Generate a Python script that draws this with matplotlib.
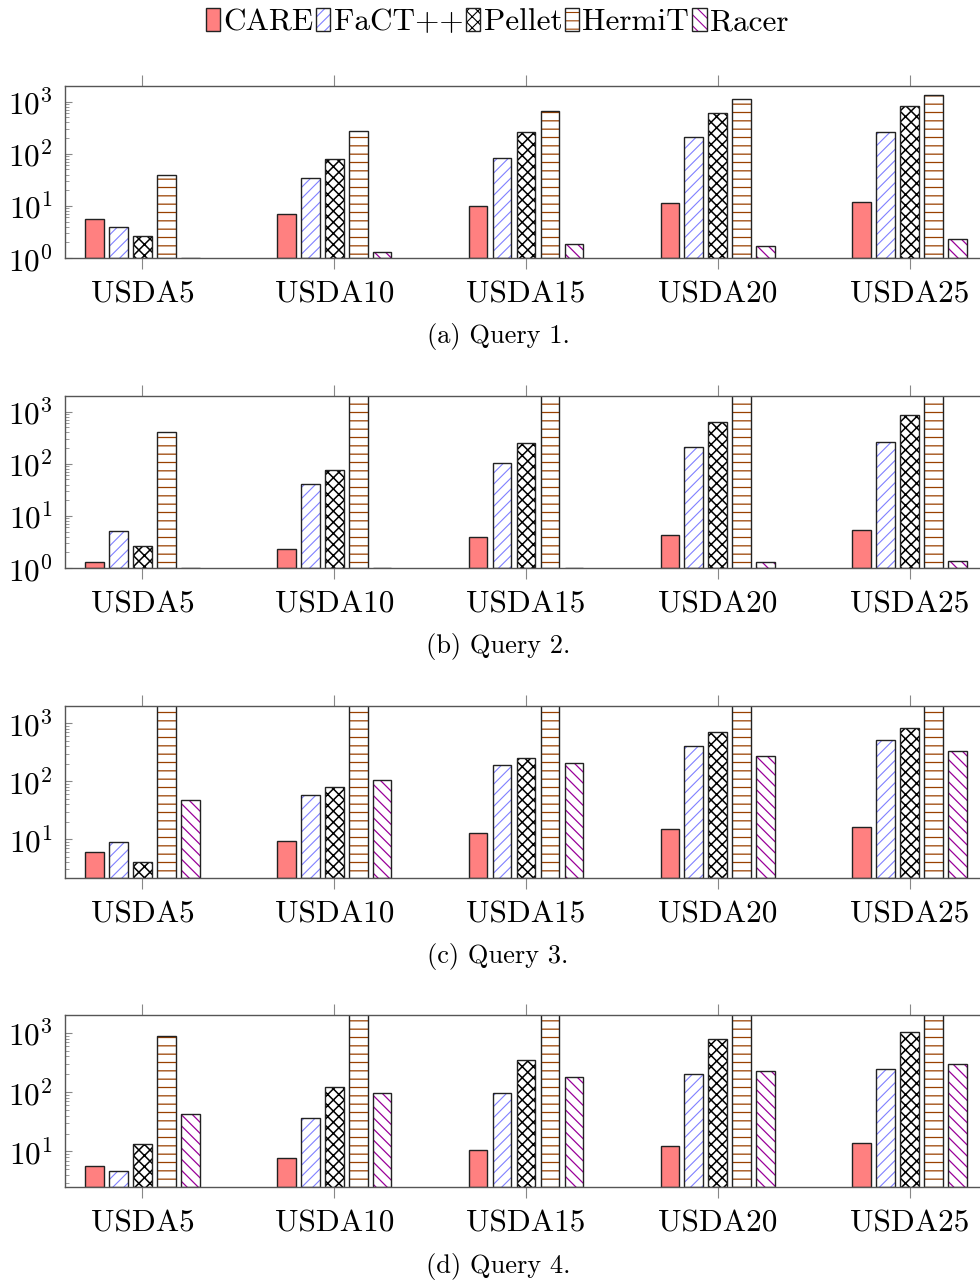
import matplotlib
matplotlib.use("Agg")
import matplotlib.pyplot as plt
from matplotlib.patches import Patch
from matplotlib.legend_handler import HandlerTuple
import numpy as np

# ---------------- data ----------------
groups = ['USDA5', 'USDA10', 'USDA15', 'USDA20', 'USDA25']
reasoners = ['CARE', 'FaCT++', 'Pellet', 'HermiT', 'Racer']
captions = ['(a) Query 1.', '(b) Query 2.', '(c) Query 3.', '(d) Query 4.']

q1_care = [5.6, 7.1, 10.0, 11.4, 11.9]
q1_fact = [3.9, 33.7, 82.6, 207, 258]
q1_pellet = [2.6, 78, 258, 615, 835]
q1_hermit = [38.5, 270, 653, 1110, 1320]
q1_racer = [1.0, 1.29, 1.83, 1.73, 2.29]

q2_care = [1.3, 2.28, 3.88, 4.24, 5.38]
q2_fact = [5.2, 40.5, 104, 206, 260]
q2_pellet = [2.65, 75, 253, 623, 850]
q2_hermit = [405, 3600, 3600, 3600, 3600]
q2_racer = [1.0, 1.0, 1.0, 1.3, 1.38]

q3_care = [5.9, 9.2, 12.7, 15.1, 16.4]
q3_fact = [8.8, 59, 189, 407, 517]
q3_pellet = [4.07, 79, 257, 719, 843]
q3_hermit = [3600, 3600, 3600, 3600, 3600]
q3_racer = [47.8, 106, 209, 274, 329]

q4_care = [5.75, 7.9, 10.4, 12.6, 14.0]
q4_fact = [4.7, 36.4, 97, 200, 245]
q4_pellet = [13.3, 123, 352, 775, 1040]
q4_hermit = [890, 3600, 3600, 3600, 3600]
q4_racer = [43.5, 97, 182, 229, 294]

queries = [
    [q1_care, q1_fact, q1_pellet, q1_hermit, q1_racer],
    [q2_care, q2_fact, q2_pellet, q2_hermit, q2_racer],
    [q3_care, q3_fact, q3_pellet, q3_hermit, q3_racer],
    [q4_care, q4_fact, q4_pellet, q4_hermit, q4_racer],
]
ymins = [1.0, 1.0, 2.13, 2.52]
ymax = 2000

# ---------------- style ----------------
plt.rcParams['font.family'] = ['cmr10', 'DejaVu Serif']
plt.rcParams['mathtext.fontset'] = 'cm'
plt.rcParams['mathtext.default'] = 'regular'
plt.rcParams['axes.formatter.use_mathtext'] = True
plt.rcParams['hatch.linewidth'] = 0.8

FS = 22.5
FS_CAP = 19
fill_colors = ['#ff8080', 'white', 'white', 'white', 'white']
hatch_colors = [None, '#8080ff', '#000000', '#994000', '#990099']
hatches = [None, '///', 'xxx', '--', '\\\\\\']
hatch_lw = [0.8, 0.8, 1.1, 0.9, 0.9]
outline = '#222222'
spine_c = '#555555'
tick_c = '#888888'

W, H = 980, 1285
fig = plt.figure(figsize=(W / 100, H / 100), dpi=100)

ax_tops = [86, 396, 706, 1015]
ax_h = 172
left_px, right_px = 65, 987
cap_y = [337, 647, 957, 1266]

x = np.arange(len(groups))
offset = 0.125
bw = 0.097

for qi, data in enumerate(queries):
    top = ax_tops[qi]
    ax = fig.add_axes([left_px / W, 1 - (top + ax_h) / H,
                       (right_px - left_px) / W, ax_h / H])
    ax.set_yscale('log')
    ymin = ymins[qi]
    for k, vals in enumerate(data):
        xs = x + (k - 2) * offset
        heights = [v - ymin for v in vals]
        if hatches[k] is None:
            ax.bar(xs, heights, width=bw, bottom=ymin, color=fill_colors[k],
                   edgecolor=outline, linewidth=1.0, zorder=2)
        else:
            with plt.rc_context({'hatch.linewidth': hatch_lw[k]}):
                ax.bar(xs, heights, width=bw, bottom=ymin, color='white',
                       edgecolor=hatch_colors[k], hatch=hatches[k], linewidth=0,
                       zorder=2)
            ax.bar(xs, heights, width=bw, bottom=ymin, fill=False,
                   edgecolor=outline, linewidth=1.0, zorder=3)
    ax.set_ylim(ymin, ymax)
    ax.set_xlim(-0.404, len(groups) - 1 + 0.404)
    ax.set_xticks(x)
    ax.set_xticklabels(groups, fontsize=FS)
    ax.tick_params(axis='x', which='major', direction='out', length=8,
                   width=0.8, color=tick_c, top=True, bottom=True,
                   labeltop=False, pad=8)
    ax.tick_params(axis='y', which='major', direction='in', length=5,
                   width=0.8, color=tick_c, left=True, right=True,
                   labelsize=FS, pad=9)
    ax.tick_params(axis='y', which='minor', direction='in', length=3,
                   width=0.6, color=tick_c, left=True, right=True)
    ax.yaxis.set_major_locator(matplotlib.ticker.LogLocator(base=10, numticks=10))
    ax.yaxis.set_minor_locator(matplotlib.ticker.LogLocator(base=10, subs=np.arange(2, 10), numticks=20))
    ax.yaxis.set_minor_formatter(matplotlib.ticker.NullFormatter())
    for s in ax.spines.values():
        s.set_color(spine_c)
        s.set_linewidth(1.0)
        s.set_zorder(4)
    fig.text(498 / W, 1 - cap_y[qi] / H, captions[qi], fontsize=FS_CAP,
             ha='center', va='center')

# ---------------- legend ----------------
handles = []
for k in range(5):
    if hatches[k] is None:
        handles.append(Patch(facecolor=fill_colors[k], edgecolor=outline, linewidth=1.0))
    else:
        with plt.rc_context({'hatch.linewidth': hatch_lw[k]}):
            h1 = Patch(facecolor='white', edgecolor=hatch_colors[k], hatch=hatches[k], linewidth=0)
        h2 = Patch(fill=False, edgecolor=outline, linewidth=1.0)
        handles.append((h1, h2))

fig.legend(handles, reasoners, loc='center', bbox_to_anchor=(497 / W, 1 - 22 / H),
           ncol=5, frameon=False, fontsize=FS, handlelength=0.45,
           handleheight=0.75, handletextpad=0.1, columnspacing=0.1,
           borderpad=0, handler_map={tuple: HandlerTuple(ndivide=1)})

fig.savefig('out.png', dpi=100)
